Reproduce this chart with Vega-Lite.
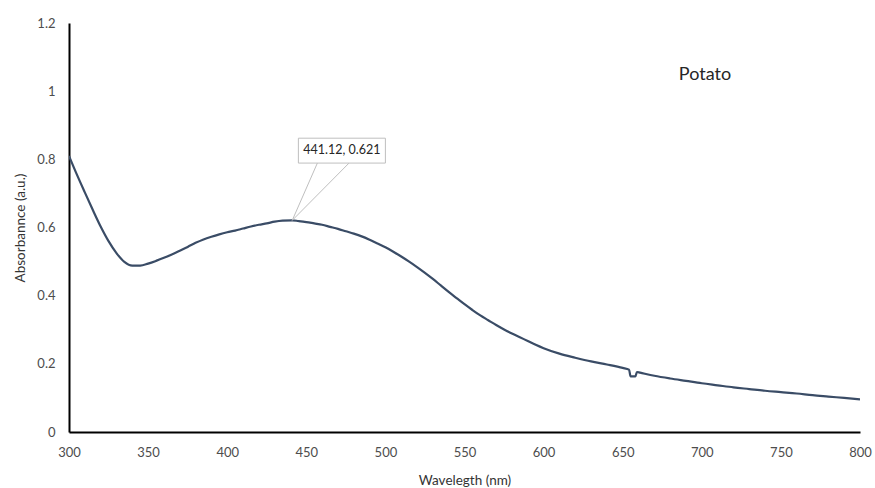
{
  "$schema": "https://vega.github.io/schema/vega-lite/v6.json",
  "width": 791,
  "height": 409,
  "autosize": {"type": "none"},
  "padding": {"left": 69, "top": 23, "right": 15, "bottom": 56},
  "background": "white",
  "config": {
    "view": {"stroke": null},
    "font": "Lato",
    "axis": {"grid": false, "ticks": false, "labelFlush": false, "labelOverlap": false, "domainColor": "#000000", "domainWidth": 2, "labelColor": "#4d4d4d", "labelFontSize": 13, "titleColor": "#333333", "titleFontSize": 13.5, "titleFontWeight": "normal", "labelFont": "Lato", "titleFont": "Lato"}
  },
  "datasets": {
    "spectrum": [
      {"wavelength": 300, "absorbance": 0.81},
      {"wavelength": 305, "absorbance": 0.755},
      {"wavelength": 310, "absorbance": 0.703},
      {"wavelength": 315, "absorbance": 0.652},
      {"wavelength": 320, "absorbance": 0.603},
      {"wavelength": 325, "absorbance": 0.56},
      {"wavelength": 330, "absorbance": 0.525},
      {"wavelength": 335, "absorbance": 0.499},
      {"wavelength": 340, "absorbance": 0.488},
      {"wavelength": 345, "absorbance": 0.488},
      {"wavelength": 350, "absorbance": 0.494},
      {"wavelength": 355, "absorbance": 0.502},
      {"wavelength": 360, "absorbance": 0.511},
      {"wavelength": 365, "absorbance": 0.521},
      {"wavelength": 370, "absorbance": 0.532},
      {"wavelength": 375, "absorbance": 0.543},
      {"wavelength": 380, "absorbance": 0.555},
      {"wavelength": 385, "absorbance": 0.565},
      {"wavelength": 390, "absorbance": 0.573},
      {"wavelength": 395, "absorbance": 0.58},
      {"wavelength": 400, "absorbance": 0.586},
      {"wavelength": 405, "absorbance": 0.591},
      {"wavelength": 410, "absorbance": 0.597},
      {"wavelength": 415, "absorbance": 0.603},
      {"wavelength": 420, "absorbance": 0.608},
      {"wavelength": 425, "absorbance": 0.612},
      {"wavelength": 430, "absorbance": 0.617},
      {"wavelength": 435, "absorbance": 0.62},
      {"wavelength": 441.12, "absorbance": 0.621},
      {"wavelength": 445, "absorbance": 0.619},
      {"wavelength": 450, "absorbance": 0.616},
      {"wavelength": 455, "absorbance": 0.612},
      {"wavelength": 460, "absorbance": 0.608},
      {"wavelength": 465, "absorbance": 0.602},
      {"wavelength": 470, "absorbance": 0.596},
      {"wavelength": 475, "absorbance": 0.589},
      {"wavelength": 480, "absorbance": 0.582},
      {"wavelength": 485, "absorbance": 0.574},
      {"wavelength": 490, "absorbance": 0.564},
      {"wavelength": 495, "absorbance": 0.553},
      {"wavelength": 500, "absorbance": 0.542},
      {"wavelength": 505, "absorbance": 0.529},
      {"wavelength": 510, "absorbance": 0.515},
      {"wavelength": 515, "absorbance": 0.5},
      {"wavelength": 520, "absorbance": 0.484},
      {"wavelength": 525, "absorbance": 0.467},
      {"wavelength": 530, "absorbance": 0.449},
      {"wavelength": 535, "absorbance": 0.43},
      {"wavelength": 540, "absorbance": 0.411},
      {"wavelength": 545, "absorbance": 0.393},
      {"wavelength": 550, "absorbance": 0.375},
      {"wavelength": 555, "absorbance": 0.358},
      {"wavelength": 560, "absorbance": 0.342},
      {"wavelength": 565, "absorbance": 0.328},
      {"wavelength": 570, "absorbance": 0.314},
      {"wavelength": 575, "absorbance": 0.301},
      {"wavelength": 580, "absorbance": 0.289},
      {"wavelength": 585, "absorbance": 0.278},
      {"wavelength": 590, "absorbance": 0.267},
      {"wavelength": 595, "absorbance": 0.256},
      {"wavelength": 600, "absorbance": 0.246},
      {"wavelength": 610, "absorbance": 0.23},
      {"wavelength": 620, "absorbance": 0.218},
      {"wavelength": 630, "absorbance": 0.207},
      {"wavelength": 640, "absorbance": 0.198},
      {"wavelength": 650, "absorbance": 0.188},
      {"wavelength": 654, "absorbance": 0.183},
      {"wavelength": 655, "absorbance": 0.163},
      {"wavelength": 658, "absorbance": 0.163},
      {"wavelength": 659, "absorbance": 0.176},
      {"wavelength": 661, "absorbance": 0.174},
      {"wavelength": 670, "absorbance": 0.165},
      {"wavelength": 680, "absorbance": 0.157},
      {"wavelength": 690, "absorbance": 0.15},
      {"wavelength": 700, "absorbance": 0.143},
      {"wavelength": 710, "absorbance": 0.137},
      {"wavelength": 720, "absorbance": 0.131},
      {"wavelength": 730, "absorbance": 0.126},
      {"wavelength": 740, "absorbance": 0.121},
      {"wavelength": 750, "absorbance": 0.117},
      {"wavelength": 760, "absorbance": 0.113},
      {"wavelength": 770, "absorbance": 0.108},
      {"wavelength": 780, "absorbance": 0.104},
      {"wavelength": 790, "absorbance": 0.1},
      {"wavelength": 800, "absorbance": 0.096}
    ],
    "leaders": [
      {"x": 457, "y": 0.789, "px": 441.12, "py": 0.621},
      {"x": 477, "y": 0.789, "px": 441.12, "py": 0.621}
    ],
    "box": [
      {"x": 445, "x2": 500, "y": 0.862, "y2": 0.789, "label": "441.12, 0.621", "cx": 472.5, "cy": 0.826}
    ],
    "title": [
      {"x": 702, "y": 1.047, "label": "Potato"}
    ]
  },
  "layer": [
    {
      "data": {"name": "spectrum"},
      "mark": {"type": "line", "color": "#3a4c66", "strokeWidth": 2.2, "clip": true, "interpolate": "monotone"},
      "encoding": {
        "x": {"field": "wavelength", "type": "quantitative", "scale": {"domain": [300, 800], "nice": false, "zero": false},
          "axis": {"values": [300, 350, 400, 450, 500, 550, 600, 650, 700, 750, 800], "title": "Wavelegth (nm)", "labelPadding": 14, "titlePadding": 14}},
        "y": {"field": "absorbance", "type": "quantitative", "scale": {"domain": [0, 1.2], "nice": false},
          "axis": {"values": [0, 0.2, 0.4, 0.6, 0.8, 1, 1.2], "format": "~g", "title": "Absorbannce (a.u.)", "labelPadding": 14, "titlePadding": 9}}
      }
    },
    {
      "data": {"name": "leaders"},
      "mark": {"type": "rule", "color": "#bfbfbf", "strokeWidth": 1},
      "encoding": {
        "x": {"field": "x", "type": "quantitative"},
        "y": {"field": "y", "type": "quantitative"},
        "x2": {"field": "px"},
        "y2": {"field": "py"}
      }
    },
    {
      "data": {"name": "box"},
      "mark": {"type": "rect", "fill": "white", "stroke": "#bfbfbf", "strokeWidth": 1},
      "encoding": {
        "x": {"field": "x", "type": "quantitative"},
        "x2": {"field": "x2"},
        "y": {"field": "y", "type": "quantitative"},
        "y2": {"field": "y2"}
      }
    },
    {
      "data": {"name": "box"},
      "mark": {"type": "text", "fontSize": 12.5, "color": "#262626", "font": "Lato"},
      "encoding": {
        "x": {"field": "cx", "type": "quantitative"},
        "y": {"field": "cy", "type": "quantitative"},
        "text": {"field": "label"}
      }
    },
    {
      "data": {"name": "title"},
      "mark": {"type": "text", "fontSize": 18, "color": "#262626", "font": "Lato"},
      "encoding": {
        "x": {"field": "x", "type": "quantitative"},
        "y": {"field": "y", "type": "quantitative"},
        "text": {"field": "label"}
      }
    }
  ]
}
